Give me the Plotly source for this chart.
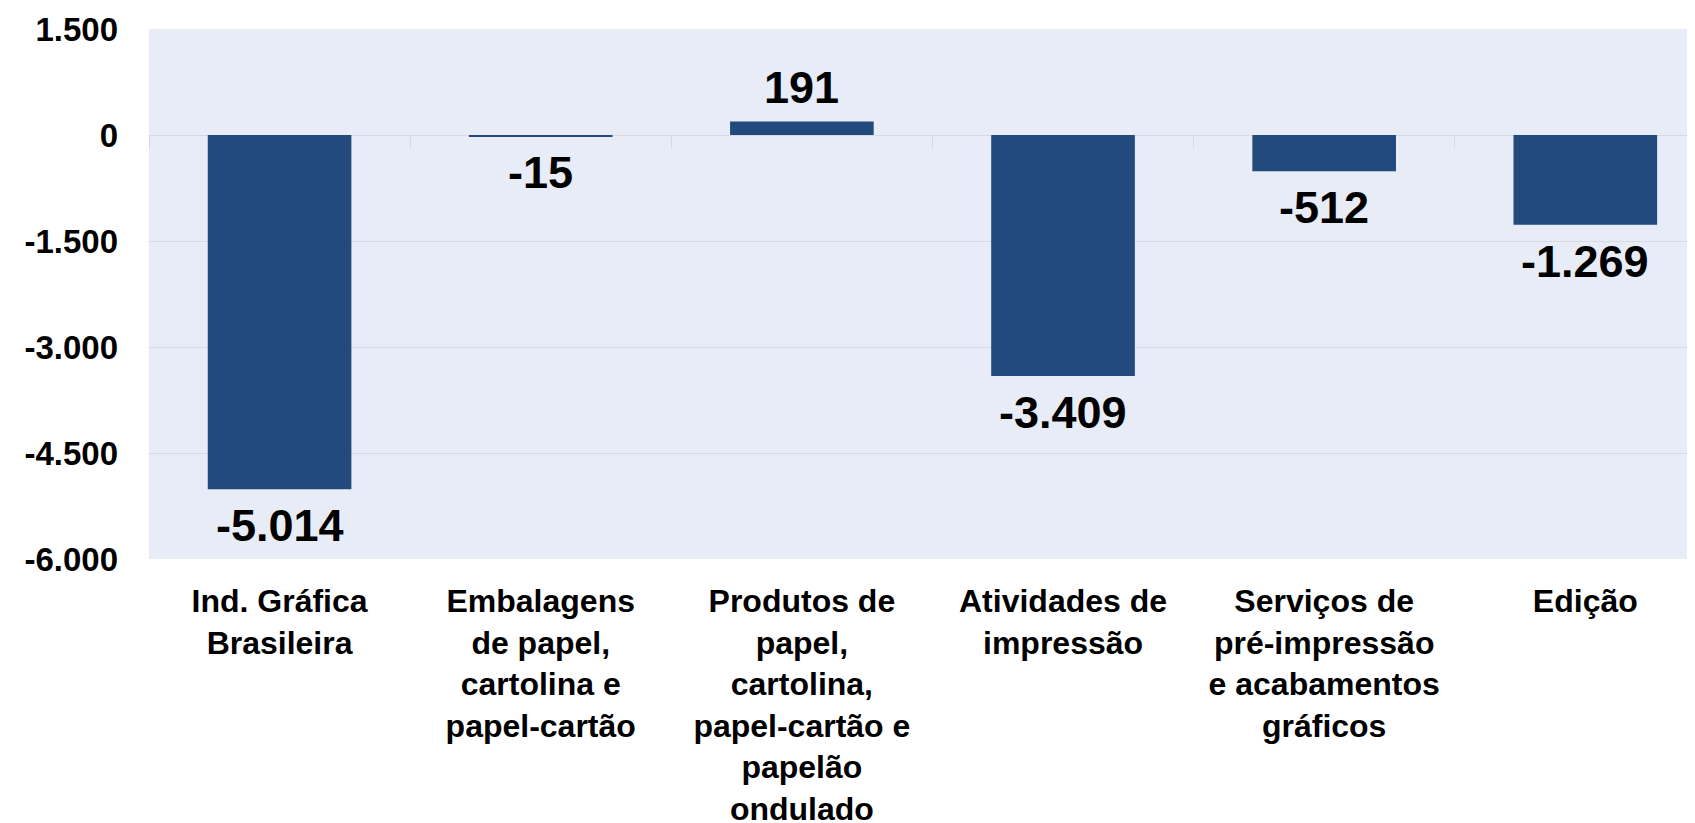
import plotly.graph_objects as go

# categories (line breaks as in the original axis labels)
categories = [
    "Ind. Gráfica<br>Brasileira",
    "Embalagens<br>de papel,<br>cartolina e<br>papel-cartão",
    "Produtos de<br>papel,<br>cartolina,<br>papel-cartão e<br>papelão<br>ondulado",
    "Atividades de<br>impressão",
    "Serviços de<br>pré-impressão<br>e acabamentos<br>gráficos",
    "Edição",
]
values = [-5014, -15, 191, -3409, -512, -1269]

y_tickvals = [1500, 0, -1500, -3000, -4500, -6000]
y_ticktext = ["1.500", "0", "-1.500", "-3.000", "-4.500", "-6.000"]

BAR = "#224a7d"
BG = "#e8ecf6"
GRID = "#d4d9e4"
FONT = "Liberation Sans, Arial, sans-serif"


def fmt(v):
    return f"{v:,}".replace(",", ".")


fig = go.Figure()
fig.add_trace(go.Bar(
    x=categories, y=values,
    marker_color=BAR, marker_line=dict(width=0),
    hoverinfo="skip",
))
# invisible helper trace so the boundary ticks along the zero line have categories
fig.add_trace(go.Scatter(
    x=categories, y=values, xaxis="x2", mode="markers",
    marker=dict(opacity=0), hoverinfo="skip", showlegend=False,
))

# value labels, a bit further from the bar ends than plotly's own outside text
for cat, v in zip(categories, values):
    fig.add_annotation(
        x=cat, y=v, text=fmt(v), showarrow=False,
        yanchor="top" if v < 0 else "bottom",
        yshift=-9 if v < 0 else 7,
        font=dict(family=FONT, size=45, color="#000000", weight="bold"),
    )

# page body has an 8px default margin, margins below account for it
fig.update_layout(
    width=1695, height=823, autosize=False,
    margin=dict(l=141, r=8, t=21, b=272),
    paper_bgcolor="#ffffff", plot_bgcolor=BG,
    showlegend=False, bargap=0.45,
    xaxis=dict(
        range=[-0.5, 5.42], showgrid=False, ticks="", automargin=False,
        tickfont=dict(family=FONT, size=32, color="#000000", weight="bold"),
        ticklabelstandoff=20,
    ),
    xaxis2=dict(
        overlaying="x", matches="x", anchor="free", position=0.8,
        showticklabels=False, showgrid=False, showline=False,
        ticks="outside", tickson="boundaries", ticklen=12, tickwidth=1,
        tickcolor=GRID,
    ),
    yaxis=dict(
        range=[-6000, 1500], tickvals=y_tickvals, ticktext=y_ticktext,
        showgrid=True, gridcolor=GRID, gridwidth=1, automargin=False,
        zeroline=True, zerolinecolor=GRID, zerolinewidth=1,
        tickfont=dict(family=FONT, size=33, color="#000000", weight="bold"),
        ticklabelstandoff=30,
    ),
)

fig.write_html("out.html")
